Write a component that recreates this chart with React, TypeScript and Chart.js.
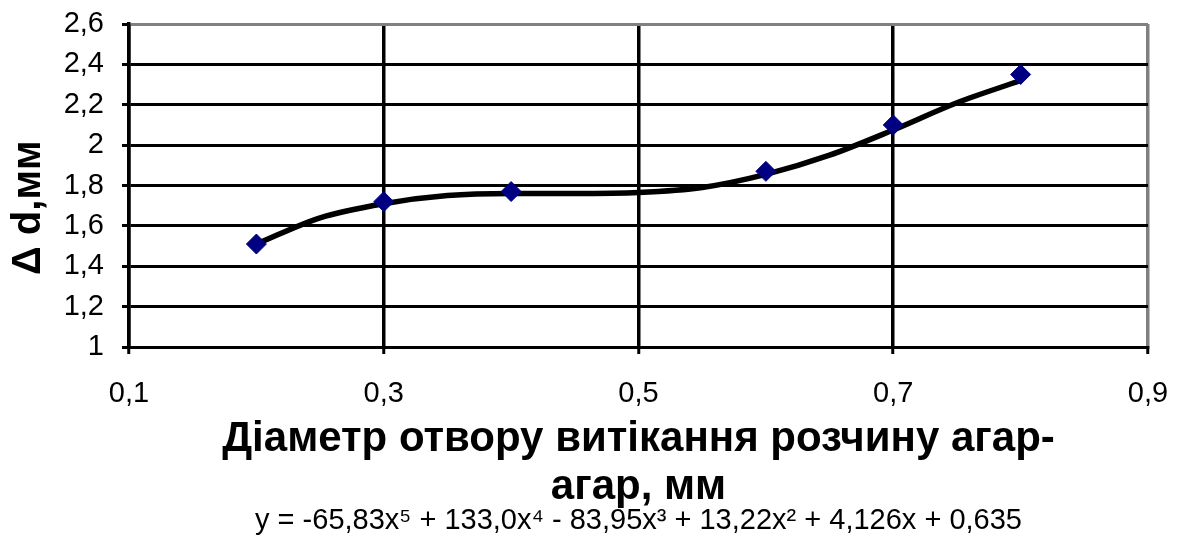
import React, { useEffect, useRef } from "react";
import { Chart, registerables } from "chart.js";

Chart.register(...registerables);

// Measured points
const measuredX = [0.2, 0.3, 0.4, 0.6, 0.7, 0.8];
const measuredY = [1.51, 1.72, 1.77, 1.87, 2.1, 2.35];

// Polynomial trendline as it appears in the picture (sampled by eye)
const trendX = [0.2, 0.25, 0.3, 0.35, 0.4, 0.45, 0.5, 0.55, 0.6, 0.65, 0.7, 0.75, 0.8];
const trendY = [1.51, 1.64, 1.71, 1.75, 1.76, 1.76, 1.765, 1.79, 1.855, 1.95, 2.075, 2.21, 2.32];

// Axis ticks
const xTicks = [0.1, 0.3, 0.5, 0.7, 0.9];
const xTickLabels = ["0,1", "0,3", "0,5", "0,7", "0,9"];
const yTicks = [1, 1.2, 1.4, 1.6, 1.8, 2, 2.2, 2.4, 2.6];
const yTickLabels = ["1", "1,2", "1,4", "1,6", "1,8", "2", "2,2", "2,4", "2,6"];

// trailing spaces nudge the rotated title down, as in the original
const yTitle = "Δ d,мм    ";
const xTitle = ["Діаметр отвору витікання розчину агар-", "агар, мм"];
const equation = "y = -65,83x⁵ + 133,0x⁴ - 83,95x³ + 13,22x² + 4,126x + 0,635";

const FONT = "'Liberation Sans', Arial, sans-serif";

export default function App() {
  const ref = useRef<HTMLCanvasElement | null>(null);

  useEffect(() => {
    if (!ref.current) return;
    const chart = new Chart(ref.current, {
      type: "scatter",
      data: {
        datasets: [
          {
            label: "measured",
            data: measuredX.map((x, i) => ({ x, y: measuredY[i] })),
            pointStyle: "rectRot",
            pointRadius: 10,
            pointBackgroundColor: "#000080",
            pointBorderColor: "#000080",
            pointBorderWidth: 1,
            showLine: false,
          },
          {
            label: "trend",
            data: trendX.map((x, i) => ({ x, y: trendY[i] })),
            showLine: true,
            pointRadius: 0,
            borderColor: "#000000",
            borderWidth: 5.5,
            cubicInterpolationMode: "monotone",
          },
        ],
      },
      options: {
        responsive: false,
        animation: false,
        layout: { autoPadding: false, padding: { left: 0, right: 31, top: 24, bottom: 0 } },
        plugins: {
          legend: { display: false },
          tooltip: { enabled: false },
          subtitle: {
            display: true,
            position: "bottom",
            fullSize: false,
            text: equation,
            color: "#000",
            font: { family: FONT, size: 29, lineHeight: 1.2 },
            padding: { top: 0, bottom: 2 },
          },
        },
        scales: {
          x: {
            type: "linear",
            min: 0.1,
            max: 0.9,
            afterBuildTicks: (s: any) => {
              s.ticks = xTicks.map((v) => ({ value: v }));
            },
            afterFit: (s: any) => {
              s.height = 156.2;
              s.paddingLeft = 0;
              s.paddingRight = 0;
              s.paddingTop = 0;
              s.paddingBottom = 0;
            },
            ticks: {
              callback: (_v: any, i: number) => xTickLabels[i],
              color: "#000",
              font: { family: FONT, size: 29 },
              padding: 23,
              maxRotation: 0,
            },
            grid: {
              color: (c: any) => (c.index === xTicks.length - 1 ? "#808080" : "#000"),
              lineWidth: 3.5,
              tickLength: 7,
              tickColor: "#000",
              tickWidth: 3,
            },
            border: { color: "#000", width: 3 },
            title: {
              display: true,
              text: xTitle,
              color: "#000",
              font: { family: FONT, size: 42, weight: "bold", lineHeight: "48px" },
              padding: { top: 0, bottom: -8 },
            },
          },
          y: {
            type: "linear",
            min: 1,
            max: 2.6,
            afterBuildTicks: (s: any) => {
              s.ticks = yTicks.map((v) => ({ value: v }));
            },
            afterFit: (s: any) => {
              s.width = 129;
              s.paddingLeft = 0;
              s.paddingRight = 0;
              s.paddingTop = 0;
              s.paddingBottom = 0;
            },
            ticks: {
              callback: (_v: any, i: number) => yTickLabels[i],
              color: "#000",
              font: { family: FONT, size: 29 },
              padding: 18,
            },
            grid: {
              color: (c: any) => (c.index === yTicks.length - 1 ? "#808080" : "#000"),
              lineWidth: 3,
              tickLength: 7,
              tickColor: "#000",
              tickWidth: 3,
            },
            border: { color: "#000", width: 3.5 },
            title: {
              display: true,
              text: yTitle,
              color: "#000",
              font: { family: FONT, size: 40, weight: "bold", lineHeight: 1.2 },
              padding: { top: 5, bottom: 0 },
            },
          },
        },
      },
    });
    return () => chart.destroy();
  }, []);

  return (
    <div style={{ position: "absolute", left: 0, top: 0, width: 1179, height: 540, background: "#fff" }}>
      <canvas ref={ref} width={1179} height={540} />
    </div>
  );
}
